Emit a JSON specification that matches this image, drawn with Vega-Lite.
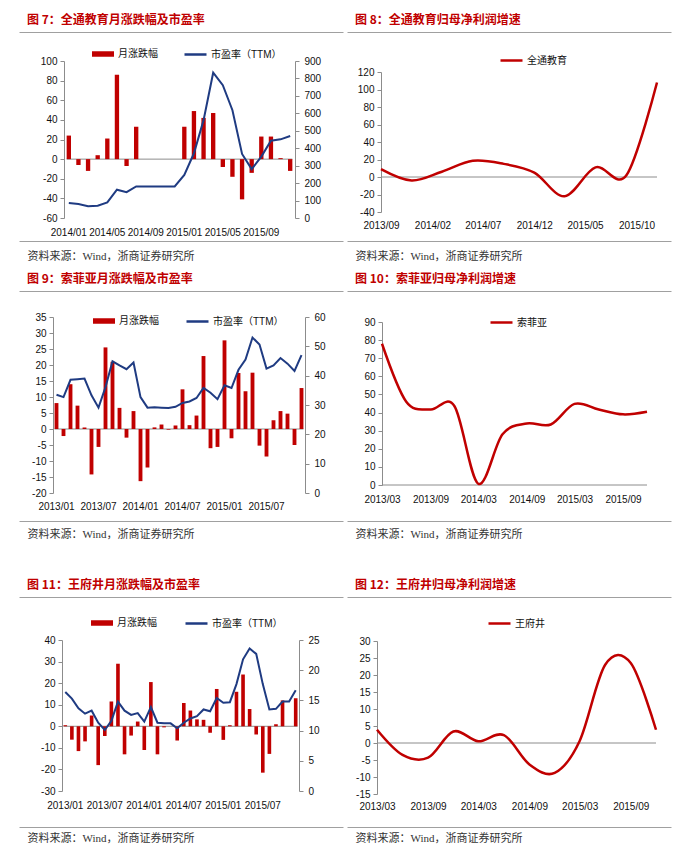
{
  "$schema": "https://vega.github.io/schema/vega-lite/v6.json",
  "padding": {"left": 18, "top": 13, "right": 0, "bottom": 0},
  "background": "white",
  "config": {
    "locale": {"number": {"decimal": ".", "thousands": ",", "grouping": [3], "currency": ["$", ""], "minus": "-"}},
    "font": "Liberation Sans",
    "view": {"stroke": null},
    "axis": {
      "labelFont": "Liberation Sans", "labelFontSize": 10, "labelColor": "#111111",
      "domainColor": "#8c8c8c", "tickColor": "#8c8c8c", "tickSize": 4, "grid": false,
      "labelPadding": 3, "labelOverlap": false,
      "titleFont": "Liberation Serif, Noto Sans CJK SC", "titleFontWeight": "normal", "titleFontSize": 11, "titleColor": "#333333"
    },
    "legend": {
      "direction": "horizontal", "labelFont": "Liberation Sans, Noto Sans CJK SC", "labelFontSize": 10,
      "labelColor": "#111111", "labelOffset": 3, "padding": 0, "symbolSize": 484
    },
    "title": {
      "anchor": "start", "frame": "group", "dx": 8, "offset": 5,
      "font": "Noto Sans CJK SC", "fontSize": 12, "fontWeight": "bold", "color": "#c00000"
    }
  },
  "spacing": 38,
  "resolve": {"scale": {"fill": "independent", "stroke": "independent"}, "legend": {"fill": "independent", "stroke": "independent"}},
  "vconcat": [
    {
      "spacing": 10,
      "resolve": {"scale": {"fill": "independent", "stroke": "independent"}, "legend": {"fill": "independent", "stroke": "independent"}},
      "vconcat": [
        {
          "spacing": 2,
          "resolve": {"scale": {"fill": "independent", "stroke": "independent"}, "legend": {"fill": "independent", "stroke": "independent"}},
          "hconcat": [
            {
              "width": 324, "height": 209,
              "view": {"stroke": "#a0a0a0", "strokeWidth": 1, "strokeDash": [324, 209, 324, 209]},
              "title": {"text": "图 7：全通教育月涨跌幅及市盈率"},
              "data": {"values": [
                {"m": "2014/01", "chg": 24, "pe": 86},
                {"m": "2014/02", "chg": -6, "pe": 80},
                {"m": "2014/03", "chg": -12, "pe": 67},
                {"m": "2014/04", "chg": 4, "pe": 70},
                {"m": "2014/05", "chg": 21, "pe": 89},
                {"m": "2014/06", "chg": 86, "pe": 162},
                {"m": "2014/07", "chg": -7, "pe": 148},
                {"m": "2014/08", "chg": 33, "pe": 181},
                {"m": "2014/09", "chg": 0, "pe": 181},
                {"m": "2014/10", "chg": 0, "pe": 181},
                {"m": "2014/11", "chg": 0, "pe": 181},
                {"m": "2014/12", "chg": 0, "pe": 181},
                {"m": "2015/01", "chg": 33, "pe": 247},
                {"m": "2015/02", "chg": 49, "pe": 371},
                {"m": "2015/03", "chg": 42, "pe": 561},
                {"m": "2015/04", "chg": 47, "pe": 833},
                {"m": "2015/05", "chg": -8, "pe": 761},
                {"m": "2015/06", "chg": -18, "pe": 618},
                {"m": "2015/07", "chg": -41, "pe": 367},
                {"m": "2015/08", "chg": -14, "pe": 280},
                {"m": "2015/09", "chg": 23, "pe": 352},
                {"m": "2015/10", "chg": 23, "pe": 443},
                {"m": "2015/11", "chg": 1, "pe": 451},
                {"m": "2015/12", "chg": -12, "pe": 470}
              ]},
              "layer": [
                {
                  "layer": [
                    {
                      "data": {"values": [{}]},
                      "mark": {"type": "rule", "color": "#8c8c8c", "strokeWidth": 1},
                      "encoding": {
                        "x": {"datum": "2014/01", "type": "ordinal", "bandPosition": 0, "title": "资料来源：Wind，浙商证券研究所",
                          "axis": {"orient": "bottom", "offset": -16, "domain": false, "ticks": false, "labelAngle": 0, "labelPadding": 2,
                            "values": ["2014/01", "2014/05", "2014/09", "2015/01", "2015/05", "2015/09"],
                            "titleX": 8, "titleY": 31, "titleAlign": "left", "titleAnchor": "start", "titleBaseline": "middle"}},
                        "x2": {"datum": "2015/12", "bandPosition": 1},
                        "y": {"datum": 0, "type": "quantitative",
                          "axis": {"orient": "left", "offset": -45, "title": null, "values": [-60, -40, -20, 0, 20, 40, 60, 80, 100]}}
                      }
                    },
                    {
                      "mark": {"type": "bar", "color": "#c00000"},
                      "encoding": {
                        "x": {"field": "m", "type": "ordinal", "title": "资料来源：Wind，浙商证券研究所",
                          "scale": {"type": "band", "range": [45, 276], "paddingInner": 0.55, "paddingOuter": 0.275},
                          "axis": {"orient": "bottom", "offset": -16, "domain": false, "ticks": false, "labelAngle": 0, "labelPadding": 2,
                            "values": ["2014/01", "2014/05", "2014/09", "2015/01", "2015/05", "2015/09"],
                            "titleX": 8, "titleY": 31, "titleAlign": "left", "titleAnchor": "start", "titleBaseline": "middle"}},
                        "y": {"field": "chg", "type": "quantitative",
                          "scale": {"domain": [-60, 100], "range": [186, 29], "nice": false, "zero": false},
                          "axis": {"orient": "left", "offset": -45, "title": null, "values": [-60, -40, -20, 0, 20, 40, 60, 80, 100]}},
                        "fill": {"datum": "月涨跌幅", "scale": {"range": ["#c00000"]},
                          "legend": {"title": null, "orient": "none", "legendX": 72, "legendY": 10, "symbolType": "M-1,-0.25H1V0.25H-1Z"}}
                      }
                    }
                  ]
                },
                {
                  "mark": {"type": "line", "color": "#1f3b82", "strokeWidth": 2},
                  "encoding": {
                    "x": {"field": "m", "type": "ordinal", "title": "资料来源：Wind，浙商证券研究所"},
                    "y": {"field": "pe", "type": "quantitative",
                      "scale": {"domain": [0, 900], "range": [186, 29], "nice": false, "zero": false},
                      "axis": {"orient": "right", "offset": -48, "title": null, "labelPadding": 5, "values": [0, 100, 200, 300, 400, 500, 600, 700, 800, 900]}},
                    "stroke": {"datum": "市盈率（TTM）", "scale": {"range": ["#1f3b82"]},
                      "legend": {"title": null, "orient": "none", "legendX": 164, "legendY": 10, "symbolType": "stroke", "symbolStrokeWidth": 2.5}}
                  }
                }
              ],
              "resolve": {"scale": {"y": "independent"}}
            },
            {
              "width": 324, "height": 209,
              "view": {"stroke": "#a0a0a0", "strokeWidth": 1, "strokeDash": [324, 209, 324, 209]},
              "title": {"text": "图 8：全通教育归母净利润增速"},
              "data": {"values": [
                {"m": "2013-09", "v": 9},
                {"m": "2013-12", "v": -4},
                {"m": "2014-03", "v": 6},
                {"m": "2014-06", "v": 18.5},
                {"m": "2014-09", "v": 15},
                {"m": "2014-12", "v": 5},
                {"m": "2015-03", "v": -22},
                {"m": "2015-06", "v": 11},
                {"m": "2015-09", "v": 2},
                {"m": "2015-12", "v": 108}
              ], "format": {"parse": {"m": "utc:'%Y-%m'"}}},
              "layer": [
                {
                  "data": {"values": [{}]},
                  "mark": {"type": "rule", "color": "#8c8c8c", "strokeWidth": 1},
                  "encoding": {
                    "x": {"datum": {"year": 2013, "month": 9, "date": 1, "utc": true}, "type": "temporal", "title": "资料来源：Wind，浙商证券研究所",
                      "axis": {"orient": "bottom", "offset": -23, "domain": false, "ticks": false, "labelAngle": 0, "labelPadding": 2, "labelFlush": false,
                        "labelExpr": "utcFormat(datum.value, '%Y/%m')",
                        "values": [{"year": 2013, "month": 9, "date": 1, "utc": true}, {"year": 2014, "month": 2, "date": 1, "utc": true}, {"year": 2014, "month": 7, "date": 1, "utc": true}, {"year": 2014, "month": 12, "date": 1, "utc": true}, {"year": 2015, "month": 5, "date": 1, "utc": true}, {"year": 2015, "month": 10, "date": 1, "utc": true}],
                        "titleX": 8, "titleY": 38, "titleAlign": "left", "titleAnchor": "start", "titleBaseline": "middle"}},
                    "x2": {"datum": {"year": 2015, "month": 12, "date": 1, "utc": true}},
                    "y": {"datum": 0, "type": "quantitative",
                      "axis": {"orient": "left", "offset": -34, "title": null, "values": [-40, -20, 0, 20, 40, 60, 80, 100, 120]}}
                  }
                },
                {
                  "mark": {"type": "line", "color": "#c00000", "strokeWidth": 2.5, "interpolate": "cardinal"},
                  "encoding": {
                    "x": {"field": "m", "type": "temporal", "title": "资料来源：Wind，浙商证券研究所",
                      "scale": {"type": "utc", "domain": [{"year": 2013, "month": 9, "date": 1, "utc": true}, {"year": 2015, "month": 12, "date": 1, "utc": true}], "range": [34, 310]},
                      "axis": {"orient": "bottom", "offset": -23, "domain": false, "ticks": false, "labelAngle": 0, "labelPadding": 2, "labelFlush": false,
                        "labelExpr": "utcFormat(datum.value, '%Y/%m')",
                        "values": [{"year": 2013, "month": 9, "date": 1, "utc": true}, {"year": 2014, "month": 2, "date": 1, "utc": true}, {"year": 2014, "month": 7, "date": 1, "utc": true}, {"year": 2014, "month": 12, "date": 1, "utc": true}, {"year": 2015, "month": 5, "date": 1, "utc": true}, {"year": 2015, "month": 10, "date": 1, "utc": true}],
                        "titleX": 8, "titleY": 38, "titleAlign": "left", "titleAnchor": "start", "titleBaseline": "middle"}},
                    "y": {"field": "v", "type": "quantitative",
                      "scale": {"domain": [-40, 120], "range": [180, 40], "nice": false, "zero": false},
                      "axis": {"orient": "left", "offset": -34, "title": null, "values": [-40, -20, 0, 20, 40, 60, 80, 100, 120]}},
                    "stroke": {"datum": "全通教育", "scale": {"range": ["#c00000"]},
                      "legend": {"title": null, "orient": "none", "legendX": 152, "legendY": 16, "symbolType": "stroke", "symbolStrokeWidth": 2.5}}
                  }
                }
              ]
            }
          ]
        },
        {
          "spacing": 2,
          "resolve": {"scale": {"fill": "independent", "stroke": "independent"}, "legend": {"fill": "independent", "stroke": "independent"}},
          "hconcat": [
            {
              "width": 324, "height": 230,
              "view": {"stroke": "#a0a0a0", "strokeWidth": 1, "strokeDash": [324, 230, 324, 230]},
              "title": {"text": "图 9：索菲亚月涨跌幅及市盈率"},
              "data": {"values": [
                {"m": "2013/01", "chg": 8.1, "pe": 33.5},
                {"m": "2013/02", "chg": -2.2, "pe": 32.7},
                {"m": "2013/03", "chg": 14, "pe": 38.6},
                {"m": "2013/04", "chg": 7.3, "pe": 38.8},
                {"m": "2013/05", "chg": 0.5, "pe": 39},
                {"m": "2013/06", "chg": -14.2, "pe": 33.3},
                {"m": "2013/07", "chg": -5.6, "pe": 29.1},
                {"m": "2013/08", "chg": 25.5, "pe": 36.1},
                {"m": "2013/09", "chg": 21, "pe": 44.9},
                {"m": "2013/10", "chg": 6.6, "pe": 43.5},
                {"m": "2013/11", "chg": -2.7, "pe": 42.2},
                {"m": "2013/12", "chg": 5.6, "pe": 44.5},
                {"m": "2014/01", "chg": -16.3, "pe": 32.7},
                {"m": "2014/02", "chg": -12, "pe": 29.1},
                {"m": "2014/03", "chg": 0.5, "pe": 29.2},
                {"m": "2014/04", "chg": 1.4, "pe": 29.1},
                {"m": "2014/05", "chg": -0.2, "pe": 29},
                {"m": "2014/06", "chg": 1.1, "pe": 29.4},
                {"m": "2014/07", "chg": 12.4, "pe": 30.7},
                {"m": "2014/08", "chg": 1.2, "pe": 31.2},
                {"m": "2014/09", "chg": 4.2, "pe": 32.4},
                {"m": "2014/10", "chg": 22.8, "pe": 35.8},
                {"m": "2014/11", "chg": -6, "pe": 34.2},
                {"m": "2014/12", "chg": -5.6, "pe": 32},
                {"m": "2015/01", "chg": 27.7, "pe": 36.7},
                {"m": "2015/02", "chg": -2.9, "pe": 35.8},
                {"m": "2015/03", "chg": 17.5, "pe": 42},
                {"m": "2015/04", "chg": 11.8, "pe": 45.5},
                {"m": "2015/05", "chg": 17.6, "pe": 53},
                {"m": "2015/06", "chg": -5.2, "pe": 50.6},
                {"m": "2015/07", "chg": -8.6, "pe": 42.4},
                {"m": "2015/08", "chg": 2.7, "pe": 43.5},
                {"m": "2015/09", "chg": 5.6, "pe": 46},
                {"m": "2015/10", "chg": 4.8, "pe": 44.1},
                {"m": "2015/11", "chg": -5, "pe": 41.6},
                {"m": "2015/12", "chg": 12.8, "pe": 47}
              ]},
              "layer": [
                {
                  "layer": [
                    {
                      "data": {"values": [{}]},
                      "mark": {"type": "rule", "color": "#8c8c8c", "strokeWidth": 1},
                      "encoding": {
                        "x": {"datum": "2013/01", "type": "ordinal", "bandPosition": 0, "title": "资料来源：Wind，浙商证券研究所",
                          "axis": {"orient": "bottom", "offset": -21.5, "domain": false, "ticks": false, "labelAngle": 0, "labelPadding": 2,
                            "values": ["2013/01", "2013/07", "2014/01", "2014/07", "2015/01", "2015/07"],
                            "titleX": 8, "titleY": 34.5, "titleAlign": "left", "titleAnchor": "start", "titleBaseline": "middle"}},
                        "x2": {"datum": "2015/12", "bandPosition": 1},
                        "y": {"datum": 0, "type": "quantitative",
                          "axis": {"orient": "left", "offset": -34, "title": null, "values": [-20, -15, -10, -5, 0, 5, 10, 15, 20, 25, 30, 35]}}
                      }
                    },
                    {
                      "mark": {"type": "bar", "color": "#c00000"},
                      "encoding": {
                        "x": {"field": "m", "type": "ordinal", "title": "资料来源：Wind，浙商证券研究所",
                          "scale": {"type": "band", "range": [34, 286], "paddingInner": 0.45, "paddingOuter": 0.225},
                          "axis": {"orient": "bottom", "offset": -21.5, "domain": false, "ticks": false, "labelAngle": 0, "labelPadding": 2,
                            "values": ["2013/01", "2013/07", "2014/01", "2014/07", "2015/01", "2015/07"],
                            "titleX": 8, "titleY": 34.5, "titleAlign": "left", "titleAnchor": "start", "titleBaseline": "middle"}},
                        "y": {"field": "chg", "type": "quantitative",
                          "scale": {"domain": [-20, 35], "range": [202, 26], "nice": false, "zero": false},
                          "axis": {"orient": "left", "offset": -34, "title": null, "values": [-20, -15, -10, -5, 0, 5, 10, 15, 20, 25, 30, 35]}},
                        "fill": {"datum": "月涨跌幅", "scale": {"range": ["#c00000"]},
                          "legend": {"title": null, "orient": "none", "legendX": 73, "legendY": 18, "symbolType": "M-1,-0.25H1V0.25H-1Z"}}
                      }
                    }
                  ]
                },
                {
                  "mark": {"type": "line", "color": "#1f3b82", "strokeWidth": 2},
                  "encoding": {
                    "x": {"field": "m", "type": "ordinal", "title": "资料来源：Wind，浙商证券研究所"},
                    "y": {"field": "pe", "type": "quantitative",
                      "scale": {"domain": [0, 60], "range": [202, 26], "nice": false, "zero": false},
                      "axis": {"orient": "right", "offset": -38, "title": null, "labelPadding": 5, "values": [0, 10, 20, 30, 40, 50, 60]}},
                    "stroke": {"datum": "市盈率（TTM）", "scale": {"range": ["#1f3b82"]},
                      "legend": {"title": null, "orient": "none", "legendX": 166, "legendY": 18, "symbolType": "stroke", "symbolStrokeWidth": 2.5}}
                  }
                }
              ],
              "resolve": {"scale": {"y": "independent"}}
            },
            {
              "width": 324, "height": 230,
              "view": {"stroke": "#a0a0a0", "strokeWidth": 1, "strokeDash": [324, 230, 324, 230]},
              "title": {"text": "图 10：索菲亚归母净利润增速"},
              "data": {"values": [
                {"m": "2013-03", "v": 78},
                {"m": "2013-06", "v": 46},
                {"m": "2013-09", "v": 41.7},
                {"m": "2013-12", "v": 43.5},
                {"m": "2014-03", "v": 0.7},
                {"m": "2014-06", "v": 28},
                {"m": "2014-09", "v": 34},
                {"m": "2014-12", "v": 33.4},
                {"m": "2015-03", "v": 44.8},
                {"m": "2015-06", "v": 41.7},
                {"m": "2015-09", "v": 39},
                {"m": "2015-12", "v": 40.4}
              ], "format": {"parse": {"m": "utc:'%Y-%m'"}}},
              "layer": [
                {
                  "data": {"values": [{}]},
                  "mark": {"type": "rule", "color": "#8c8c8c", "strokeWidth": 1},
                  "encoding": {
                    "x": {"datum": {"year": 2013, "month": 3, "date": 1, "utc": true}, "type": "temporal", "title": "资料来源：Wind，浙商证券研究所",
                      "axis": {"orient": "bottom", "offset": -28.5, "domain": false, "ticks": false, "labelAngle": 0, "labelPadding": 2, "labelFlush": false,
                        "labelExpr": "utcFormat(datum.value, '%Y/%m')",
                        "values": [{"year": 2013, "month": 3, "date": 1, "utc": true}, {"year": 2013, "month": 9, "date": 1, "utc": true}, {"year": 2014, "month": 3, "date": 1, "utc": true}, {"year": 2014, "month": 9, "date": 1, "utc": true}, {"year": 2015, "month": 3, "date": 1, "utc": true}, {"year": 2015, "month": 9, "date": 1, "utc": true}],
                        "titleX": 8, "titleY": 41.5, "titleAlign": "left", "titleAnchor": "start", "titleBaseline": "middle"}},
                    "x2": {"datum": {"year": 2015, "month": 12, "date": 1, "utc": true}},
                    "y": {"datum": 0, "type": "quantitative",
                      "axis": {"orient": "left", "offset": -35, "title": null, "values": [0, 10, 20, 30, 40, 50, 60, 70, 80, 90]}}
                  }
                },
                {
                  "mark": {"type": "line", "color": "#c00000", "strokeWidth": 2.5, "interpolate": "cardinal"},
                  "encoding": {
                    "x": {"field": "m", "type": "temporal", "title": "资料来源：Wind，浙商证券研究所",
                      "scale": {"type": "utc", "domain": [{"year": 2013, "month": 3, "date": 1, "utc": true}, {"year": 2015, "month": 12, "date": 1, "utc": true}], "range": [35, 300]},
                      "axis": {"orient": "bottom", "offset": -28.5, "domain": false, "ticks": false, "labelAngle": 0, "labelPadding": 2, "labelFlush": false,
                        "labelExpr": "utcFormat(datum.value, '%Y/%m')",
                        "values": [{"year": 2013, "month": 3, "date": 1, "utc": true}, {"year": 2013, "month": 9, "date": 1, "utc": true}, {"year": 2014, "month": 3, "date": 1, "utc": true}, {"year": 2014, "month": 9, "date": 1, "utc": true}, {"year": 2015, "month": 3, "date": 1, "utc": true}, {"year": 2015, "month": 9, "date": 1, "utc": true}],
                        "titleX": 8, "titleY": 41.5, "titleAlign": "left", "titleAnchor": "start", "titleBaseline": "middle"}},
                    "y": {"field": "v", "type": "quantitative",
                      "scale": {"domain": [0, 90], "range": [194, 31], "nice": false, "zero": false},
                      "axis": {"orient": "left", "offset": -35, "title": null, "values": [0, 10, 20, 30, 40, 50, 60, 70, 80, 90]}},
                    "stroke": {"datum": "索菲亚", "scale": {"range": ["#c00000"]},
                      "legend": {"title": null, "orient": "none", "legendX": 142, "legendY": 19, "symbolType": "stroke", "symbolStrokeWidth": 2.5}}
                  }
                }
              ]
            }
          ]
        }
      ]
    },
    {
      "spacing": 2,
      "resolve": {"scale": {"fill": "independent", "stroke": "independent"}, "legend": {"fill": "independent", "stroke": "independent"}},
      "hconcat": [
        {
          "width": 324, "height": 230,
          "view": {"stroke": "#a0a0a0", "strokeWidth": 1, "strokeDash": [324, 230, 324, 230]},
          "title": {"text": "图 11：王府井月涨跌幅及市盈率"},
          "data": {"values": [
            {"m": "2013/01", "chg": 0.5, "pe": 16.4},
            {"m": "2013/02", "chg": -6.2, "pe": 15.3},
            {"m": "2013/03", "chg": -11.5, "pe": 13.7},
            {"m": "2013/04", "chg": -7, "pe": 12.8},
            {"m": "2013/05", "chg": 5, "pe": 13.3},
            {"m": "2013/06", "chg": -18, "pe": 11.3},
            {"m": "2013/07", "chg": -4.5, "pe": 10.1},
            {"m": "2013/08", "chg": 11.5, "pe": 11.6},
            {"m": "2013/09", "chg": 29, "pe": 14.8},
            {"m": "2013/10", "chg": -13, "pe": 13.3},
            {"m": "2013/11", "chg": -4.3, "pe": 12.6},
            {"m": "2013/12", "chg": 2.2, "pe": 12.9},
            {"m": "2014/01", "chg": -11, "pe": 11.5},
            {"m": "2014/02", "chg": 20.5, "pe": 13.9},
            {"m": "2014/03", "chg": -13, "pe": 11.3},
            {"m": "2014/04", "chg": -0.5, "pe": 11.2},
            {"m": "2014/05", "chg": 0, "pe": 11.2},
            {"m": "2014/06", "chg": -6.6, "pe": 10.4},
            {"m": "2014/07", "chg": 10.8, "pe": 11.3},
            {"m": "2014/08", "chg": 7.3, "pe": 12},
            {"m": "2014/09", "chg": 3.2, "pe": 12.4},
            {"m": "2014/10", "chg": 3, "pe": 13.5},
            {"m": "2014/11", "chg": -3, "pe": 13.2},
            {"m": "2014/12", "chg": 17.3, "pe": 15.4},
            {"m": "2015/01", "chg": -6.3, "pe": 14.6},
            {"m": "2015/02", "chg": 0.5, "pe": 14.7},
            {"m": "2015/03", "chg": 16, "pe": 17.7},
            {"m": "2015/04", "chg": 24, "pe": 21.8},
            {"m": "2015/05", "chg": 8, "pe": 23.6},
            {"m": "2015/06", "chg": -3.8, "pe": 22.7},
            {"m": "2015/07", "chg": -21.5, "pe": 17.7},
            {"m": "2015/08", "chg": -12.8, "pe": 13.5},
            {"m": "2015/09", "chg": 1, "pe": 13.6},
            {"m": "2015/10", "chg": 12, "pe": 14.8},
            {"m": "2015/11", "chg": 0, "pe": 14.8},
            {"m": "2015/12", "chg": 13, "pe": 16.7}
          ]},
          "layer": [
            {
              "layer": [
                {
                  "data": {"values": [{}]},
                  "mark": {"type": "rule", "color": "#8c8c8c", "strokeWidth": 1},
                  "encoding": {
                    "x": {"datum": "2013/01", "type": "ordinal", "bandPosition": 0, "title": "资料来源：Wind，浙商证券研究所",
                      "axis": {"orient": "bottom", "offset": -28.5, "domain": false, "ticks": false, "labelAngle": 0, "labelPadding": 2,
                        "values": ["2013/01", "2013/07", "2014/01", "2014/07", "2015/01", "2015/07"],
                        "titleX": 8, "titleY": 39.5, "titleAlign": "left", "titleAnchor": "start", "titleBaseline": "middle"}},
                    "x2": {"datum": "2015/12", "bandPosition": 1},
                    "y": {"datum": 0, "type": "quantitative",
                      "axis": {"orient": "left", "offset": -43, "title": null, "values": [-30, -20, -10, 0, 10, 20, 30, 40]}}
                  }
                },
                {
                  "mark": {"type": "bar", "color": "#c00000"},
                  "encoding": {
                    "x": {"field": "m", "type": "ordinal", "title": "资料来源：Wind，浙商证券研究所",
                      "scale": {"type": "band", "range": [43, 280], "paddingInner": 0.45, "paddingOuter": 0.225},
                      "axis": {"orient": "bottom", "offset": -28.5, "domain": false, "ticks": false, "labelAngle": 0, "labelPadding": 2,
                        "values": ["2013/01", "2013/07", "2014/01", "2014/07", "2015/01", "2015/07"],
                        "titleX": 8, "titleY": 39.5, "titleAlign": "left", "titleAnchor": "start", "titleBaseline": "middle"}},
                    "y": {"field": "chg", "type": "quantitative",
                      "scale": {"domain": [-30, 40], "range": [194, 43], "nice": false, "zero": false},
                      "axis": {"orient": "left", "offset": -43, "title": null, "values": [-30, -20, -10, 0, 10, 20, 30, 40]}},
                    "fill": {"datum": "月涨跌幅", "scale": {"range": ["#c00000"]},
                      "legend": {"title": null, "orient": "none", "legendX": 71, "legendY": 14, "symbolType": "M-1,-0.25H1V0.25H-1Z"}}
                  }
                }
              ]
            },
            {
              "mark": {"type": "line", "color": "#1f3b82", "strokeWidth": 2},
              "encoding": {
                "x": {"field": "m", "type": "ordinal", "title": "资料来源：Wind，浙商证券研究所"},
                "y": {"field": "pe", "type": "quantitative",
                  "scale": {"domain": [0, 25], "range": [194, 43], "nice": false, "zero": false},
                  "axis": {"orient": "right", "offset": -44, "title": null, "labelPadding": 5, "values": [0, 5, 10, 15, 20, 25]}},
                "stroke": {"datum": "市盈率（TTM）", "scale": {"range": ["#1f3b82"]},
                  "legend": {"title": null, "orient": "none", "legendX": 165, "legendY": 14, "symbolType": "stroke", "symbolStrokeWidth": 2.5}}
              }
            }
          ],
          "resolve": {"scale": {"y": "independent"}}
        },
        {
          "width": 324, "height": 230,
          "view": {"stroke": "#a0a0a0", "strokeWidth": 1, "strokeDash": [324, 230, 324, 230]},
          "title": {"text": "图 12：王府井归母净利润增速"},
          "data": {"values": [
            {"m": "2013-03", "v": 3.9},
            {"m": "2013-06", "v": -3.5},
            {"m": "2013-09", "v": -4.3},
            {"m": "2013-12", "v": 3.4},
            {"m": "2014-03", "v": 0.5},
            {"m": "2014-06", "v": 2.3},
            {"m": "2014-09", "v": -6.3},
            {"m": "2014-12", "v": -8.8},
            {"m": "2015-03", "v": 0.6},
            {"m": "2015-06", "v": 23},
            {"m": "2015-09", "v": 23.5},
            {"m": "2015-12", "v": 3.9}
          ], "format": {"parse": {"m": "utc:'%Y-%m'"}}},
          "layer": [
            {
              "data": {"values": [{}]},
              "mark": {"type": "rule", "color": "#8c8c8c", "strokeWidth": 1},
              "encoding": {
                "x": {"datum": {"year": 2013, "month": 3, "date": 1, "utc": true}, "type": "temporal", "title": "资料来源：Wind，浙商证券研究所",
                  "axis": {"orient": "bottom", "offset": -27.5, "domain": false, "ticks": false, "labelAngle": 0, "labelPadding": 2, "labelFlush": false,
                    "labelExpr": "utcFormat(datum.value, '%Y/%m')",
                    "values": [{"year": 2013, "month": 3, "date": 1, "utc": true}, {"year": 2013, "month": 9, "date": 1, "utc": true}, {"year": 2014, "month": 3, "date": 1, "utc": true}, {"year": 2014, "month": 9, "date": 1, "utc": true}, {"year": 2015, "month": 3, "date": 1, "utc": true}, {"year": 2015, "month": 9, "date": 1, "utc": true}],
                    "titleX": 8, "titleY": 38.5, "titleAlign": "left", "titleAnchor": "start", "titleBaseline": "middle"}},
                "x2": {"datum": {"year": 2015, "month": 12, "date": 1, "utc": true}},
                "y": {"datum": 0, "type": "quantitative",
                  "axis": {"orient": "left", "offset": -30, "title": null, "values": [-15, -10, -5, 0, 5, 10, 15, 20, 25, 30]}}
              }
            },
            {
              "mark": {"type": "line", "color": "#c00000", "strokeWidth": 2.5, "interpolate": "cardinal"},
              "encoding": {
                "x": {"field": "m", "type": "temporal", "title": "资料来源：Wind，浙商证券研究所",
                  "scale": {"type": "utc", "domain": [{"year": 2013, "month": 3, "date": 1, "utc": true}, {"year": 2015, "month": 12, "date": 1, "utc": true}], "range": [30, 309]},
                  "axis": {"orient": "bottom", "offset": -27.5, "domain": false, "ticks": false, "labelAngle": 0, "labelPadding": 2, "labelFlush": false,
                    "labelExpr": "utcFormat(datum.value, '%Y/%m')",
                    "values": [{"year": 2013, "month": 3, "date": 1, "utc": true}, {"year": 2013, "month": 9, "date": 1, "utc": true}, {"year": 2014, "month": 3, "date": 1, "utc": true}, {"year": 2014, "month": 9, "date": 1, "utc": true}, {"year": 2015, "month": 3, "date": 1, "utc": true}, {"year": 2015, "month": 9, "date": 1, "utc": true}],
                    "titleX": 8, "titleY": 38.5, "titleAlign": "left", "titleAnchor": "start", "titleBaseline": "middle"}},
                "y": {"field": "v", "type": "quantitative",
                  "scale": {"domain": [-15, 30], "range": [197, 44], "nice": false, "zero": false},
                  "axis": {"orient": "left", "offset": -30, "title": null, "values": [-15, -10, -5, 0, 5, 10, 15, 20, 25, 30]}},
                "stroke": {"datum": "王府井", "scale": {"range": ["#c00000"]},
                  "legend": {"title": null, "orient": "none", "legendX": 140, "legendY": 14, "symbolType": "stroke", "symbolStrokeWidth": 2.5}}
              }
            }
          ]
        }
      ]
    }
  ]
}
